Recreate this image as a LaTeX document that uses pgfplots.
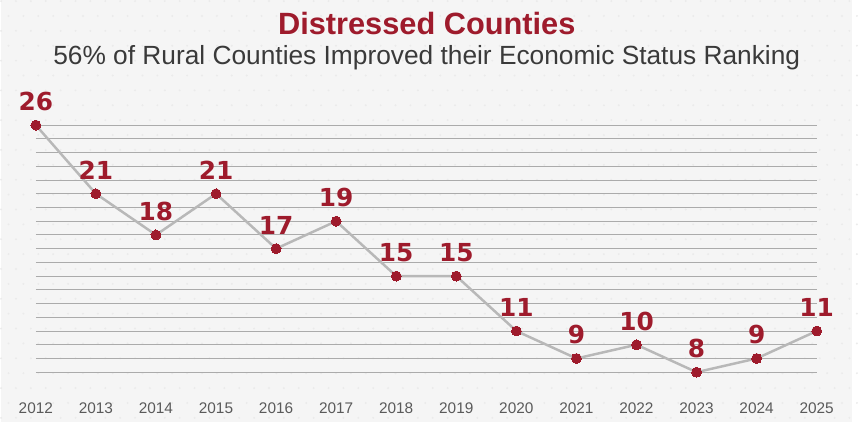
\documentclass[border=0pt]{standalone}
\usepackage{fontspec}
\setmainfont{Liberation Sans}
\newfontfamily\labfont{DejaVu Sans}
\usepackage{pgfplots}
\pgfplotsset{compat=1.18}
\definecolor{bg}{HTML}{F5F5F5}
\definecolor{dotc}{HTML}{EBEBEB}
\definecolor{dred}{HTML}{9E1B2C}
\definecolor{linegray}{HTML}{B8B8B8}
\definecolor{gridgray}{HTML}{ABABAB}
\definecolor{txtgray}{HTML}{3A3A3A}
\definecolor{tickgray}{HTML}{5A5A5A}
\begin{document}
\begin{tikzpicture}[x=1pt,y=1pt]
\fill[bg] (0,0) rectangle (858,425);
\foreach \i in {0,...,57}{\foreach \j in {0,...,28}{
  \fill[dotc] ({\i*15+mod(\j,2)*7.5},{\j*15+4}) circle (1.1);}}
\useasboundingbox (0,0) rectangle (858,425);
\node[anchor=base,text=dred,font=\fontsize{31}{34}\selectfont\bfseries] at (429,390) {Distressed Counties};
\node[anchor=base,text=txtgray,font=\fontsize{26.5}{29}\selectfont] at (429,360) {56\% of Rural Counties Improved their Economic Status Ranking};
\begin{axis}[
  at={(35pt,50pt)}, anchor=origin,
  scale only axis, width=787pt, height=249pt,
  xmin=2012, xmax=2025, ymin=8, ymax=26,
  axis line style={draw=none},
  xtick={2012,...,2025},
  /pgf/number format/fixed, /pgf/number format/1000 sep={},
  /pgf/number format/assume math mode=true,
  x tick label style={yshift=-27pt, text=tickgray, font=\fontsize{15.5}{18}\selectfont},
  ytick={8,...,26}, yticklabels={},
  ymajorgrids, grid style={gridgray, line width=0.9pt},
  major tick length=0pt,
  clip=false,
  nodes near coords,
  every node near coord/.append style={anchor=south, yshift=11pt, text=dred, font=\labfont\fontsize{25}{27}\selectfont\bfseries},
]
\addplot[linegray, line width=2.5pt, mark=*, mark size=5pt, mark options={fill=dred, draw=dred, line width=0pt}] coordinates {
(2012,26) (2013,21) (2014,18) (2015,21) (2016,17) (2017,19) (2018,15)
(2019,15) (2020,11) (2021,9) (2022,10) (2023,8) (2024,9) (2025,11)
};
\end{axis}
\end{tikzpicture}
\end{document}
